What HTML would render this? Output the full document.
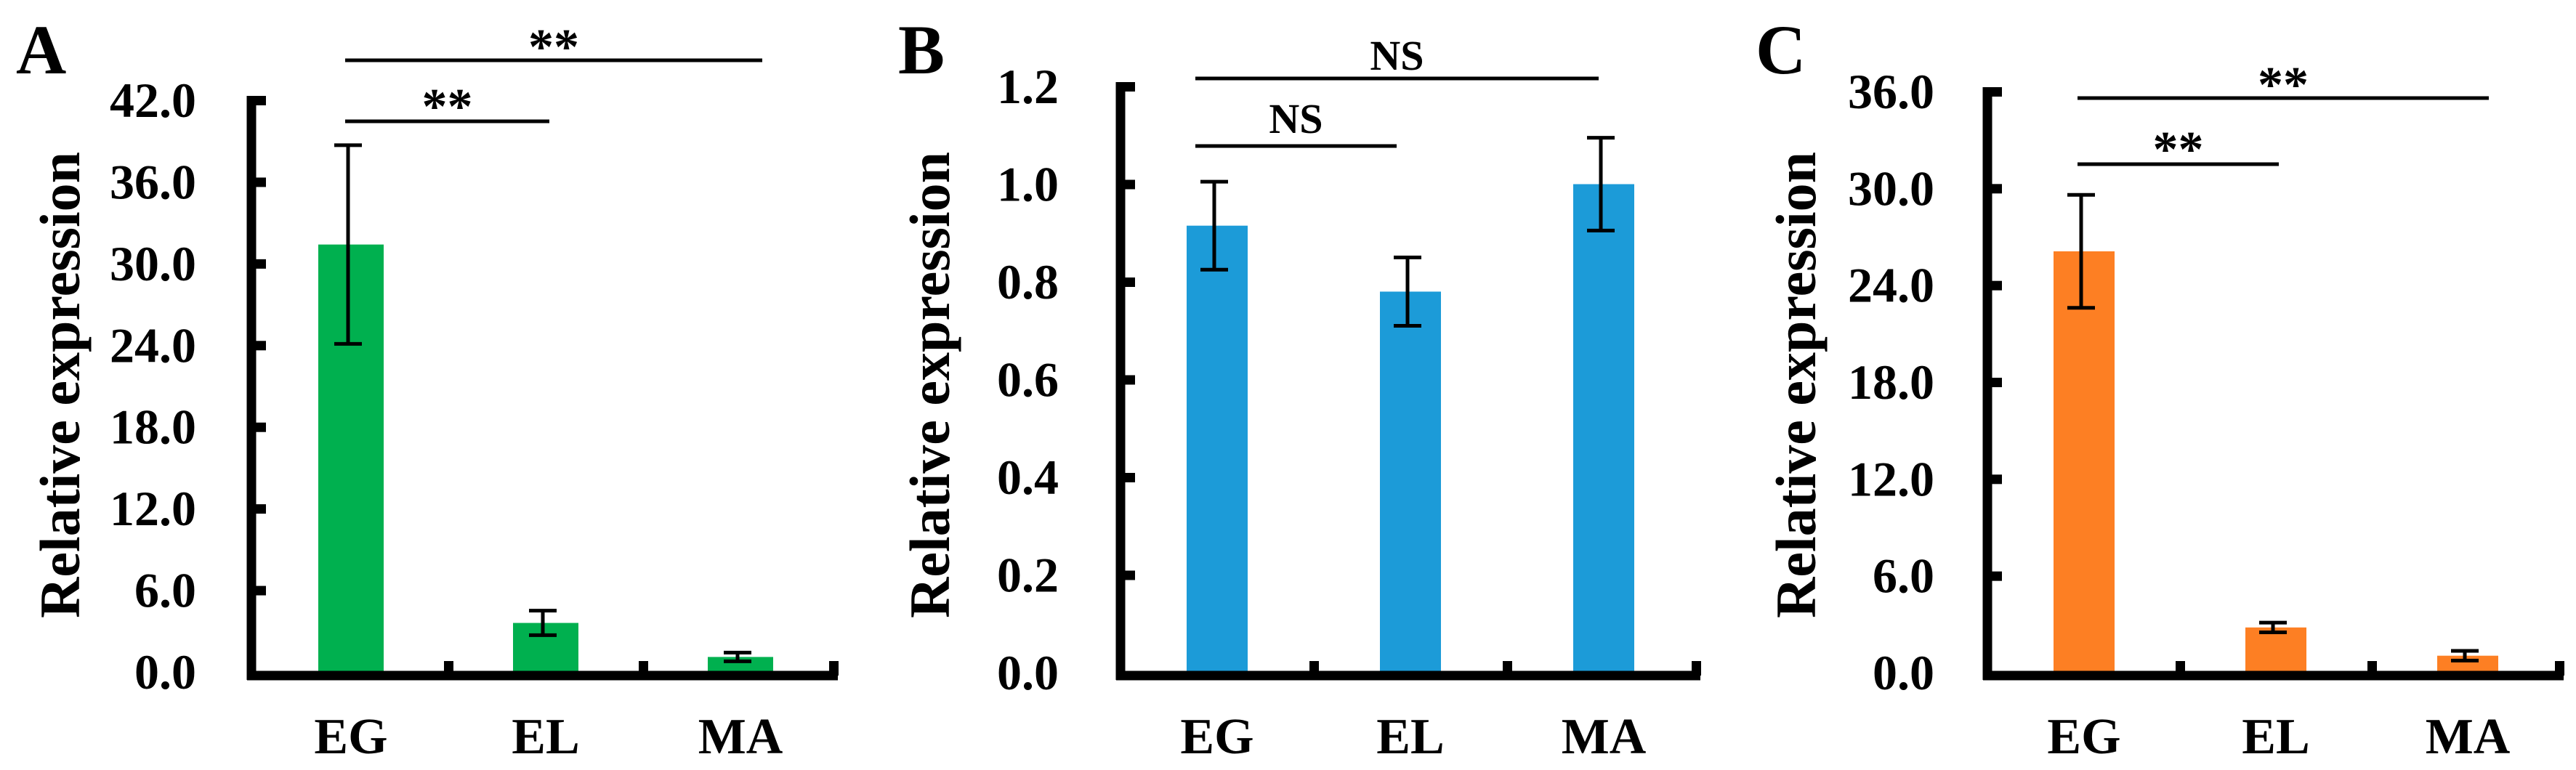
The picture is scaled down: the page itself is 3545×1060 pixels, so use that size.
<!DOCTYPE html>
<html><head><meta charset="utf-8"><style>
html,body{margin:0;padding:0;background:#fff;}
svg{display:block;}
text{font-family:"Liberation Serif",serif;font-weight:bold;fill:#000;}
</style></head><body>
<svg id="fig" width="3545" height="1060" viewBox="0 0 3545 1060" xmlns="http://www.w3.org/2000/svg"></svg>
<script>
const categories = ["EG", "EL", "MA"];
const valuesA = [31.4, 3.6, 1.1];
const errA = [7.3, 0.9, 0.32];
const ticksA = [0, 6, 12, 18, 24, 30, 36, 42];
const valuesB = [0.915, 0.78, 1.0];
const errB = [0.09, 0.07, 0.095];
const ticksB = [0, 0.2, 0.4, 0.6, 0.8, 1.0, 1.2];
const valuesC = [26.1, 2.8, 1.05];
const errC = [3.5, 0.3, 0.3];
const ticksC = [0, 6, 12, 18, 24, 30, 36];
const sigA = ["**", "**"];
const sigB = ["NS", "NS"];
const sigC = ["**", "**"];

const NS = "http://www.w3.org/2000/svg";
const svg = document.getElementById("fig");
function mk(tag, attrs, parent) {
  const e = document.createElementNS(NS, tag);
  for (const k in attrs) e.setAttribute(k, attrs[k]);
  (parent || svg).appendChild(e);
  return e;
}

const panels = [
  {id:"a", letter:"A", lx:22, ly:101, vals:valuesA, errs:errA, ticks:ticksA, dec:1, color:"#00B04F",
   ax:346, off:137, y0:925, ytop:138, vmax:42, step:268, bw:90, labelRight:270, titleX:82,
   sig:sigA, topLine:[83, 1049], lowLine:[167, 756], lineStart:475},
  {id:"b", letter:"B", lx:1236, ly:101, vals:valuesB, errs:errB, ticks:ticksB, dec:1, color:"#1C9BD8",
   ax:1542, off:133, y0:926, ytop:119, vmax:1.2, step:266, bw:84, labelRight:1457, titleX:1279,
   sig:sigB, topLine:[108, 2200], lowLine:[201, 1922], lineStart:1645},
  {id:"c", letter:"C", lx:2416, ly:101, vals:valuesC, errs:errC, ticks:ticksC, dec:1, color:"#FD7F23",
   ax:2735, off:133, y0:926, ytop:126, vmax:36, step:264, bw:84, labelRight:2662, titleX:2471,
   sig:sigC, topLine:[135, 3425], lowLine:[226, 3136], lineStart:2859}
];

panels.forEach(p => {
  const g = mk("g", {});
  
  
  const yS = v => p.y0 - (v / p.vmax) * (p.y0 - p.ytop);
  const xC = i => p.ax + p.off + p.step * i;

  const L = mk("text", {x:p.lx, y:p.ly, "font-size":96}, g);
  L.textContent = p.letter;
  
  

  p.vals.forEach((v, i) => {
    const r = mk("rect", {x:xC(i) - p.bw/2, y:yS(v), width:p.bw, height:p.y0 - yS(v), fill:p.color}, g);
    
    
  });
  p.vals.forEach((v, i) => {
    const eg = mk("g", {stroke:"#000", "stroke-width":5}, g);
    
    
    const x = xC(i) - 4, hi = yS(v + p.errs[i]), lo = yS(v - p.errs[i]);
    mk("line", {x1:x, x2:x, y1:hi, y2:lo}, eg);
    mk("line", {x1:x-19, x2:x+19, y1:hi, y2:hi}, eg);
    mk("line", {x1:x-19, x2:x+19, y1:lo, y2:lo}, eg);
  });
  const xEnd = p.ax + p.off + p.step * 2.5;
  const ya = mk("line", {x1:p.ax, x2:p.ax, y1:p.ytop - 6, y2:936, stroke:"#000", "stroke-width":13}, g);
  
  
  const xa = mk("line", {x1:p.ax - 6, x2:xEnd, y1:930, y2:930, stroke:"#000", "stroke-width":13}, g);
  
  
  for (let k = 0; k < 3; k++) {
    const tx = p.ax + p.off + p.step * (k + 0.5) - (k === 2 ? 6 : 0);
    const t = mk("rect", {x:tx - 6, y:910, width:13, height:20, fill:"#000"}, g);
    
    
  }
  p.ticks.forEach(v => {
    const y = yS(v);
    if (v !== 0) {
      const t = mk("rect", {x:p.ax, y:y - 6, width:20, height:13, fill:"#000"}, g);
      
      
    }
    const tl = mk("text", {x:p.labelRight, y:y + 23, "font-size":68, "text-anchor":"end"}, g);
    tl.textContent = v.toFixed(p.dec);
    
    
  });
  categories.forEach((c, i) => {
    const t = mk("text", {x:xC(i), y:1037, "font-size":70, "text-anchor":"middle"}, g);
    t.textContent = c;
    
    
  });
  const yt = mk("text", {x:0, y:0, "font-size":78, "text-anchor":"middle",
    transform:"translate(" + (p.titleX + 27) + "," + 530 + ") rotate(-90)"}, g);
  yt.textContent = "Relative expression";
  
  
  const s1 = mk("line", {x1:p.lineStart, x2:p.topLine[1], y1:p.topLine[0], y2:p.topLine[0], stroke:"#000", "stroke-width":5}, g);
  
  
  const s2 = mk("line", {x1:p.lineStart, x2:p.lowLine[1], y1:p.lowLine[0], y2:p.lowLine[0], stroke:"#000", "stroke-width":5}, g);
  
  
  const isNS = p.sig[0] === "NS";
  const t1 = mk("text", {x:(p.lineStart + p.topLine[1]) / 2, y:p.topLine[0] - (isNS ? 12 : -5), "font-size":isNS ? 58 : 70, "text-anchor":"middle"}, g);
  t1.textContent = p.sig[0];
  
  
  const t2 = mk("text", {x:(p.lineStart + p.lowLine[1]) / 2, y:p.lowLine[0] - (isNS ? 18 : -3), "font-size":isNS ? 58 : 70, "text-anchor":"middle"}, g);
  t2.textContent = p.sig[1];
  
  
});
</script>
</body></html>
